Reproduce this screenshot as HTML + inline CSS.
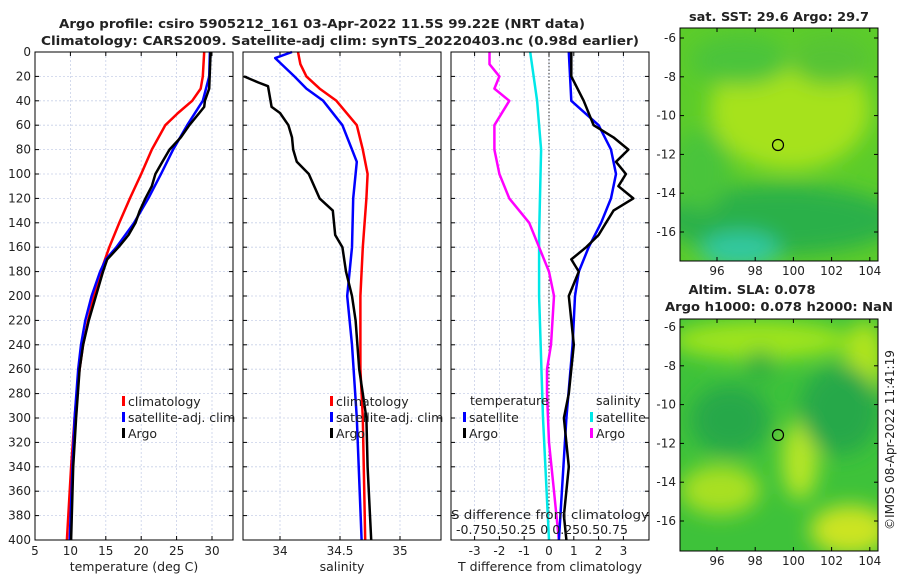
<!DOCTYPE html>
<html><head><meta charset="utf-8"><style>
body{margin:0;background:#fff;}
svg text{font-family:"DejaVu Sans","Liberation Sans",sans-serif;fill:#222;}
</style></head><body>
<svg id="c" width="900" height="580" xmlns="http://www.w3.org/2000/svg">
<defs>
<filter id="bl" x="-50%" y="-50%" width="200%" height="200%"><feGaussianBlur stdDeviation="10"/></filter>
<clipPath id="cm1"><rect x="680" y="28" width="198" height="233"/></clipPath>
<clipPath id="cm2"><rect x="680" y="319" width="198" height="232"/></clipPath>
</defs>
<text x="322" y="28" text-anchor="middle" font-size="12.5" font-weight="bold" textLength="526" lengthAdjust="spacingAndGlyphs">Argo profile: csiro 5905212_161 03-Apr-2022 11.5S 99.22E (NRT data)</text>
<text x="340" y="45" text-anchor="middle" font-size="12.5" font-weight="bold" textLength="598" lengthAdjust="spacingAndGlyphs">Climatology: CARS2009. Satellite-adj clim: synTS_20220403.nc (0.98d earlier)</text>

<g clip-path="url(#cm1)">
<rect x="680" y="28" width="198" height="233" fill="#5ccc2a"/>
<g filter="url(#bl)">
<ellipse cx="790" cy="110" rx="80" ry="60" fill="#a6e21a"/>
<ellipse cx="740" cy="60" rx="50" ry="25" fill="#4cc43a"/>
<ellipse cx="830" cy="60" rx="40" ry="25" fill="#56c436"/>
<ellipse cx="780" cy="220" rx="120" ry="35" fill="#2cb048"/>
<ellipse cx="740" cy="250" rx="40" ry="18" fill="#30c8a0"/>
<ellipse cx="700" cy="170" rx="30" ry="40" fill="#48c43a"/>
</g>
</g>
<rect x="680" y="28" width="198" height="233" fill="none" stroke="#000" stroke-width="1"/>
<circle cx="778" cy="145" r="5.5" fill="none" stroke="#000" stroke-width="1.2"/>
<text x="779" y="21" text-anchor="middle" font-size="12" font-weight="bold" textLength="180" lengthAdjust="spacingAndGlyphs">sat. SST: 29.6 Argo: 29.7</text>

<g clip-path="url(#cm2)">
<rect x="680" y="319" width="198" height="232" fill="#3ec23a"/>
<g filter="url(#bl)">
<ellipse cx="760" cy="340" rx="90" ry="20" fill="#9ee41a"/>
<ellipse cx="800" cy="460" rx="18" ry="40" fill="#b6e626"/>
<ellipse cx="720" cy="490" rx="40" ry="25" fill="#a8e020"/>
<ellipse cx="850" cy="530" rx="40" ry="25" fill="#cce420"/>
<ellipse cx="865" cy="360" rx="20" ry="40" fill="#b0e41c"/>
<ellipse cx="730" cy="420" rx="40" ry="35" fill="#28a84a"/>
<ellipse cx="840" cy="410" rx="40" ry="45" fill="#28a84a"/>
<ellipse cx="760" cy="365" rx="15" ry="15" fill="#30b040"/>
</g>
</g>
<rect x="680" y="319" width="198" height="232" fill="none" stroke="#000" stroke-width="1"/>
<circle cx="778" cy="435" r="5.5" fill="none" stroke="#000" stroke-width="1.2"/>
<text x="752" y="294" text-anchor="middle" font-size="12" font-weight="bold" textLength="127" lengthAdjust="spacingAndGlyphs">Altim. SLA: 0.078</text>
<text x="779" y="311" text-anchor="middle" font-size="12" font-weight="bold" textLength="228" lengthAdjust="spacingAndGlyphs">Argo h1000: 0.078 h2000: NaN</text>
<text transform="translate(894,440) rotate(-90)" text-anchor="middle" font-size="12" textLength="180" lengthAdjust="spacingAndGlyphs">©IMOS 08-Apr-2022 11:41:19</text>
<g id="dyn"></g>
</svg>
<script>
const depthTicks=[0,20,40,60,80,100,120,140,160,180,200,220,240,260,280,300,320,340,360,380,400];
const tempTicks=[5,10,15,20,25,30];
const tClimD=[0,20,30,40,50,60,80,100,120,140,160,180,200,220,240,260,280,300,340,400];
const tClim=[28.9,28.7,28.4,27.2,25.2,23.4,21.5,20.0,18.4,16.9,15.5,14.3,13.3,12.5,11.8,11.3,10.9,10.6,10.1,9.5];
const tSatD=[0,20,40,60,80,100,120,140,160,170,180,200,220,240,260,300,340,400];
const tSat=[29.7,29.6,28.7,26.5,24.5,22.8,21.0,19.0,16.5,15.0,14.2,13.0,12.1,11.5,11.1,10.6,10.3,9.9];
const tArgoD=[0,30,40,45,50,60,70,80,90,100,110,120,130,140,150,160,170,180,200,220,240,260,300,340,400];
const tArgo=[29.8,29.6,29.0,28.9,28.2,26.8,25.6,24.0,23.0,22.0,21.5,20.6,19.8,19.2,18.2,16.8,15.2,14.6,13.6,12.6,11.8,11.3,10.8,10.4,10.1];
const salTicks=[34,34.5,35];
const sClimD=[0,10,20,30,40,60,80,100,120,160,200,260,300,400];
const sClim=[34.15,34.17,34.22,34.33,34.47,34.64,34.69,34.73,34.72,34.69,34.67,34.67,34.69,34.71];
const sSatD=[0,5,20,30,40,60,80,90,100,120,160,200,240,300,400];
const sSat=[34.1,33.96,34.12,34.22,34.36,34.52,34.6,34.64,34.63,34.61,34.6,34.56,34.6,34.64,34.68];
const sArgoD=[20,25,28,45,50,60,70,80,90,100,120,130,150,160,180,200,220,260,300,340,400];
const sArgo=[33.7,33.82,33.9,33.93,34.0,34.07,34.1,34.11,34.14,34.24,34.33,34.44,34.46,34.52,34.55,34.6,34.63,34.66,34.72,34.73,34.76];
const dTTicks=[-3,-2,-1,0,1,2,3];
const dTSatD=[0,40,60,80,100,120,140,160,180,200,240,300,400];
const dTSat=[0.8,0.9,2.0,2.5,2.7,2.5,2.1,1.6,1.2,1.05,0.95,0.7,0.4];
const dTArgoD=[0,20,40,60,70,80,90,100,110,120,130,140,150,160,170,180,200,240,280,300,340,380,400];
const dTArgo=[0.9,0.9,1.4,1.8,2.6,3.2,2.7,3.1,2.8,3.4,2.6,2.3,2.0,1.5,0.9,1.2,0.8,1.0,0.8,0.6,0.8,0.6,0.7];
const dSSatD=[0,40,80,150,200,300,400];
const dSSat=[-0.19,-0.12,-0.08,-0.1,-0.1,-0.06,0.0];
const dSArgoD=[0,10,20,30,40,60,80,100,120,140,160,180,200,240,260,280,320,360,400];
const dSArgo=[-0.6,-0.6,-0.5,-0.55,-0.4,-0.55,-0.55,-0.5,-0.4,-0.2,-0.1,0.0,0.05,0.02,-0.02,-0.02,0.0,0.05,0.1];
const lonTicks=[96,98,100,102,104];
const latTicks=[-6,-8,-10,-12,-14,-16];

const NS='http://www.w3.org/2000/svg';
const g=document.getElementById('dyn');
function mk(t,a,parent){const e=document.createElementNS(NS,t);for(const k in a)e.setAttribute(k,a[k]);(parent||g).appendChild(e);return e;}
const Y0=52,Y1=540;
const yD=d=>Y0+(d/400)*(Y1-Y0);
const panels=[
 {x0:35,x1:233,fx:v=>35+(v-5)*7.08,ticks:tempTicks,lab:"temperature (deg C)",name:"temperature-panel"},
 {x0:243,x1:441,fx:v=>280+(v-34)*120,ticks:salTicks,lab:"salinity",name:"salinity-panel"},
 {x0:451,x1:649,fx:v=>549+v*24.8,ticks:dTTicks,lab:"T difference from climatology",name:"difference-panel"}
];
panels.forEach((p,i)=>{
  const pg=mk('g',{});
  
  
  depthTicks.forEach(d=>{
    const l=mk('line',{x1:p.x0,x2:p.x1,y1:yD(d),y2:yD(d),stroke:'#c8d0e8','stroke-width':0.8,'stroke-dasharray':'2,2'},pg);
    
    
    mk('line',{x1:p.x0,x2:p.x0+4,y1:yD(d),y2:yD(d),stroke:'#000'},pg);
    mk('line',{x1:p.x1,x2:p.x1-4,y1:yD(d),y2:yD(d),stroke:'#000'},pg);
    if(i===0){
      const t=mk('text',{x:p.x0-4,y:yD(d)+4,'text-anchor':'end','font-size':12},pg);
      t.textContent=d;
      
      
    }
  });
  p.ticks.forEach(v=>{
    const x=p.fx(v);
    const l=mk('line',{x1:x,x2:x,y1:Y0,y2:Y1,stroke:'#c8d0e8','stroke-width':0.8,'stroke-dasharray':'2,2'},pg);
    
    
    mk('line',{x1:x,x2:x,y1:Y1,y2:Y1-4,stroke:'#000'},pg);
    mk('line',{x1:x,x2:x,y1:Y0,y2:Y0+4,stroke:'#000'},pg);
    const t=mk('text',{x:x,y:Y1+15,'text-anchor':'middle','font-size':12},pg);
    t.textContent=v;
    
    
  });
  const t=mk('text',{x:(p.x0+p.x1)/2,y:571,'text-anchor':'middle','font-size':12.5},pg);
  t.textContent=p.lab;
  
  
});
const zl=mk('line',{x1:549,x2:549,y1:Y0,y2:Y1,stroke:'#333','stroke-width':1,'stroke-dasharray':'1.5,2'});



function line(D,V,fx,col,name,w){
  const pts=D.map((d,k)=>fx(V[k]).toFixed(1)+','+yD(d).toFixed(1)).join(' ');
  const e=mk('polyline',{points:pts,fill:'none',stroke:col,'stroke-width':w||2.5,'stroke-linejoin':'round'});
  
  
}
const fT=panels[0].fx, fS=panels[1].fx, fDT=panels[2].fx, fDS=v=>549+v*99.2;
line(tClimD,tClim,fT,'#ff0000','temp-climatology-line');
line(tSatD,tSat,fT,'#0000ff','temp-satellite-line');
line(tArgoD,tArgo,fT,'#000000','temp-argo-line');
line(sClimD,sClim,fS,'#ff0000','sal-climatology-line');
line(sSatD,sSat,fS,'#0000ff','sal-satellite-line');
line(sArgoD,sArgo,fS,'#000000','sal-argo-line');
line(dSSatD,dSSat,fDS,'#00e8e8','sal-diff-satellite-line');
line(dSArgoD,dSArgo,fDS,'#ff00ff','sal-diff-argo-line');
line(dTSatD,dTSat,fDT,'#0000ff','temp-diff-satellite-line');
line(dTArgoD,dTArgo,fDT,'#000000','temp-diff-argo-line');

panels.forEach(p=>{
  const r=mk('rect',{x:p.x0,y:Y0,width:p.x1-p.x0,height:Y1-Y0,fill:'none',stroke:'#000','stroke-width':1});
  
  
});
const st=mk('text',{x:550,y:519,'text-anchor':'middle','font-size':12,textLength:198,lengthAdjust:'spacingAndGlyphs'});
st.textContent='S difference from climatology';


const sl=mk('text',{x:542,y:534,'text-anchor':'middle','font-size':12,textLength:172,lengthAdjust:'spacingAndGlyphs'});
sl.textContent='-0.750.50.25 0 0.250.50.75';



function leg(x,y,col,label,name){
  const r=mk('rect',{x:x,y:y-9,width:3,height:10,fill:col});
  const t=mk('text',{x:x+6,y:y+1,'font-size':12.5});
  t.textContent=label;
  
  
  
  
}
leg(122,405,'#ff0000','climatology','legend-climatology');
leg(122,421,'#0000ff','satellite-adj. clim','legend-satellite-adj');
leg(122,437,'#000000','Argo','legend-argo');
leg(330,405,'#ff0000','climatology','legend-climatology-sal');
leg(330,421,'#0000ff','satellite-adj. clim','legend-satellite-adj-sal');
leg(330,437,'#000000','Argo','legend-argo-sal');
const lt=mk('text',{x:470,y:405,'font-size':12.5});lt.textContent='temperature';


const ls=mk('text',{x:596,y:405,'font-size':12.5});ls.textContent='salinity';


leg(463,421,'#0000ff','satellite','legend-temp-satellite');
leg(463,437,'#000000','Argo','legend-temp-argo');
leg(590,421,'#00e8e8','satellite','legend-sal-satellite');
leg(590,437,'#ff00ff','Argo','legend-sal-argo');

const lonX=v=>717+(v-96)*19.1;
[[28,261,38],[319,551,327]].forEach(([ty,by,y6],m)=>{
  lonTicks.forEach(v=>{
    const x=lonX(v);
    mk('line',{x1:x,x2:x,y1:by,y2:by-4,stroke:'#000'});
    mk('line',{x1:x,x2:x,y1:ty,y2:ty+4,stroke:'#000'});
    const t=mk('text',{x:x,y:by+14,'text-anchor':'middle','font-size':12});
    t.textContent=v;
    
    
  });
  latTicks.forEach(v=>{
    const y=y6+(-6-v)*19.4;
    mk('line',{x1:680,x2:684,y1:y,y2:y,stroke:'#000'});
    mk('line',{x1:878,x2:874,y1:y,y2:y,stroke:'#000'});
    const t=mk('text',{x:676,y:y+4,'text-anchor':'end','font-size':12});
    t.textContent=v;
    
    
  });
});
</script>
</body></html>
